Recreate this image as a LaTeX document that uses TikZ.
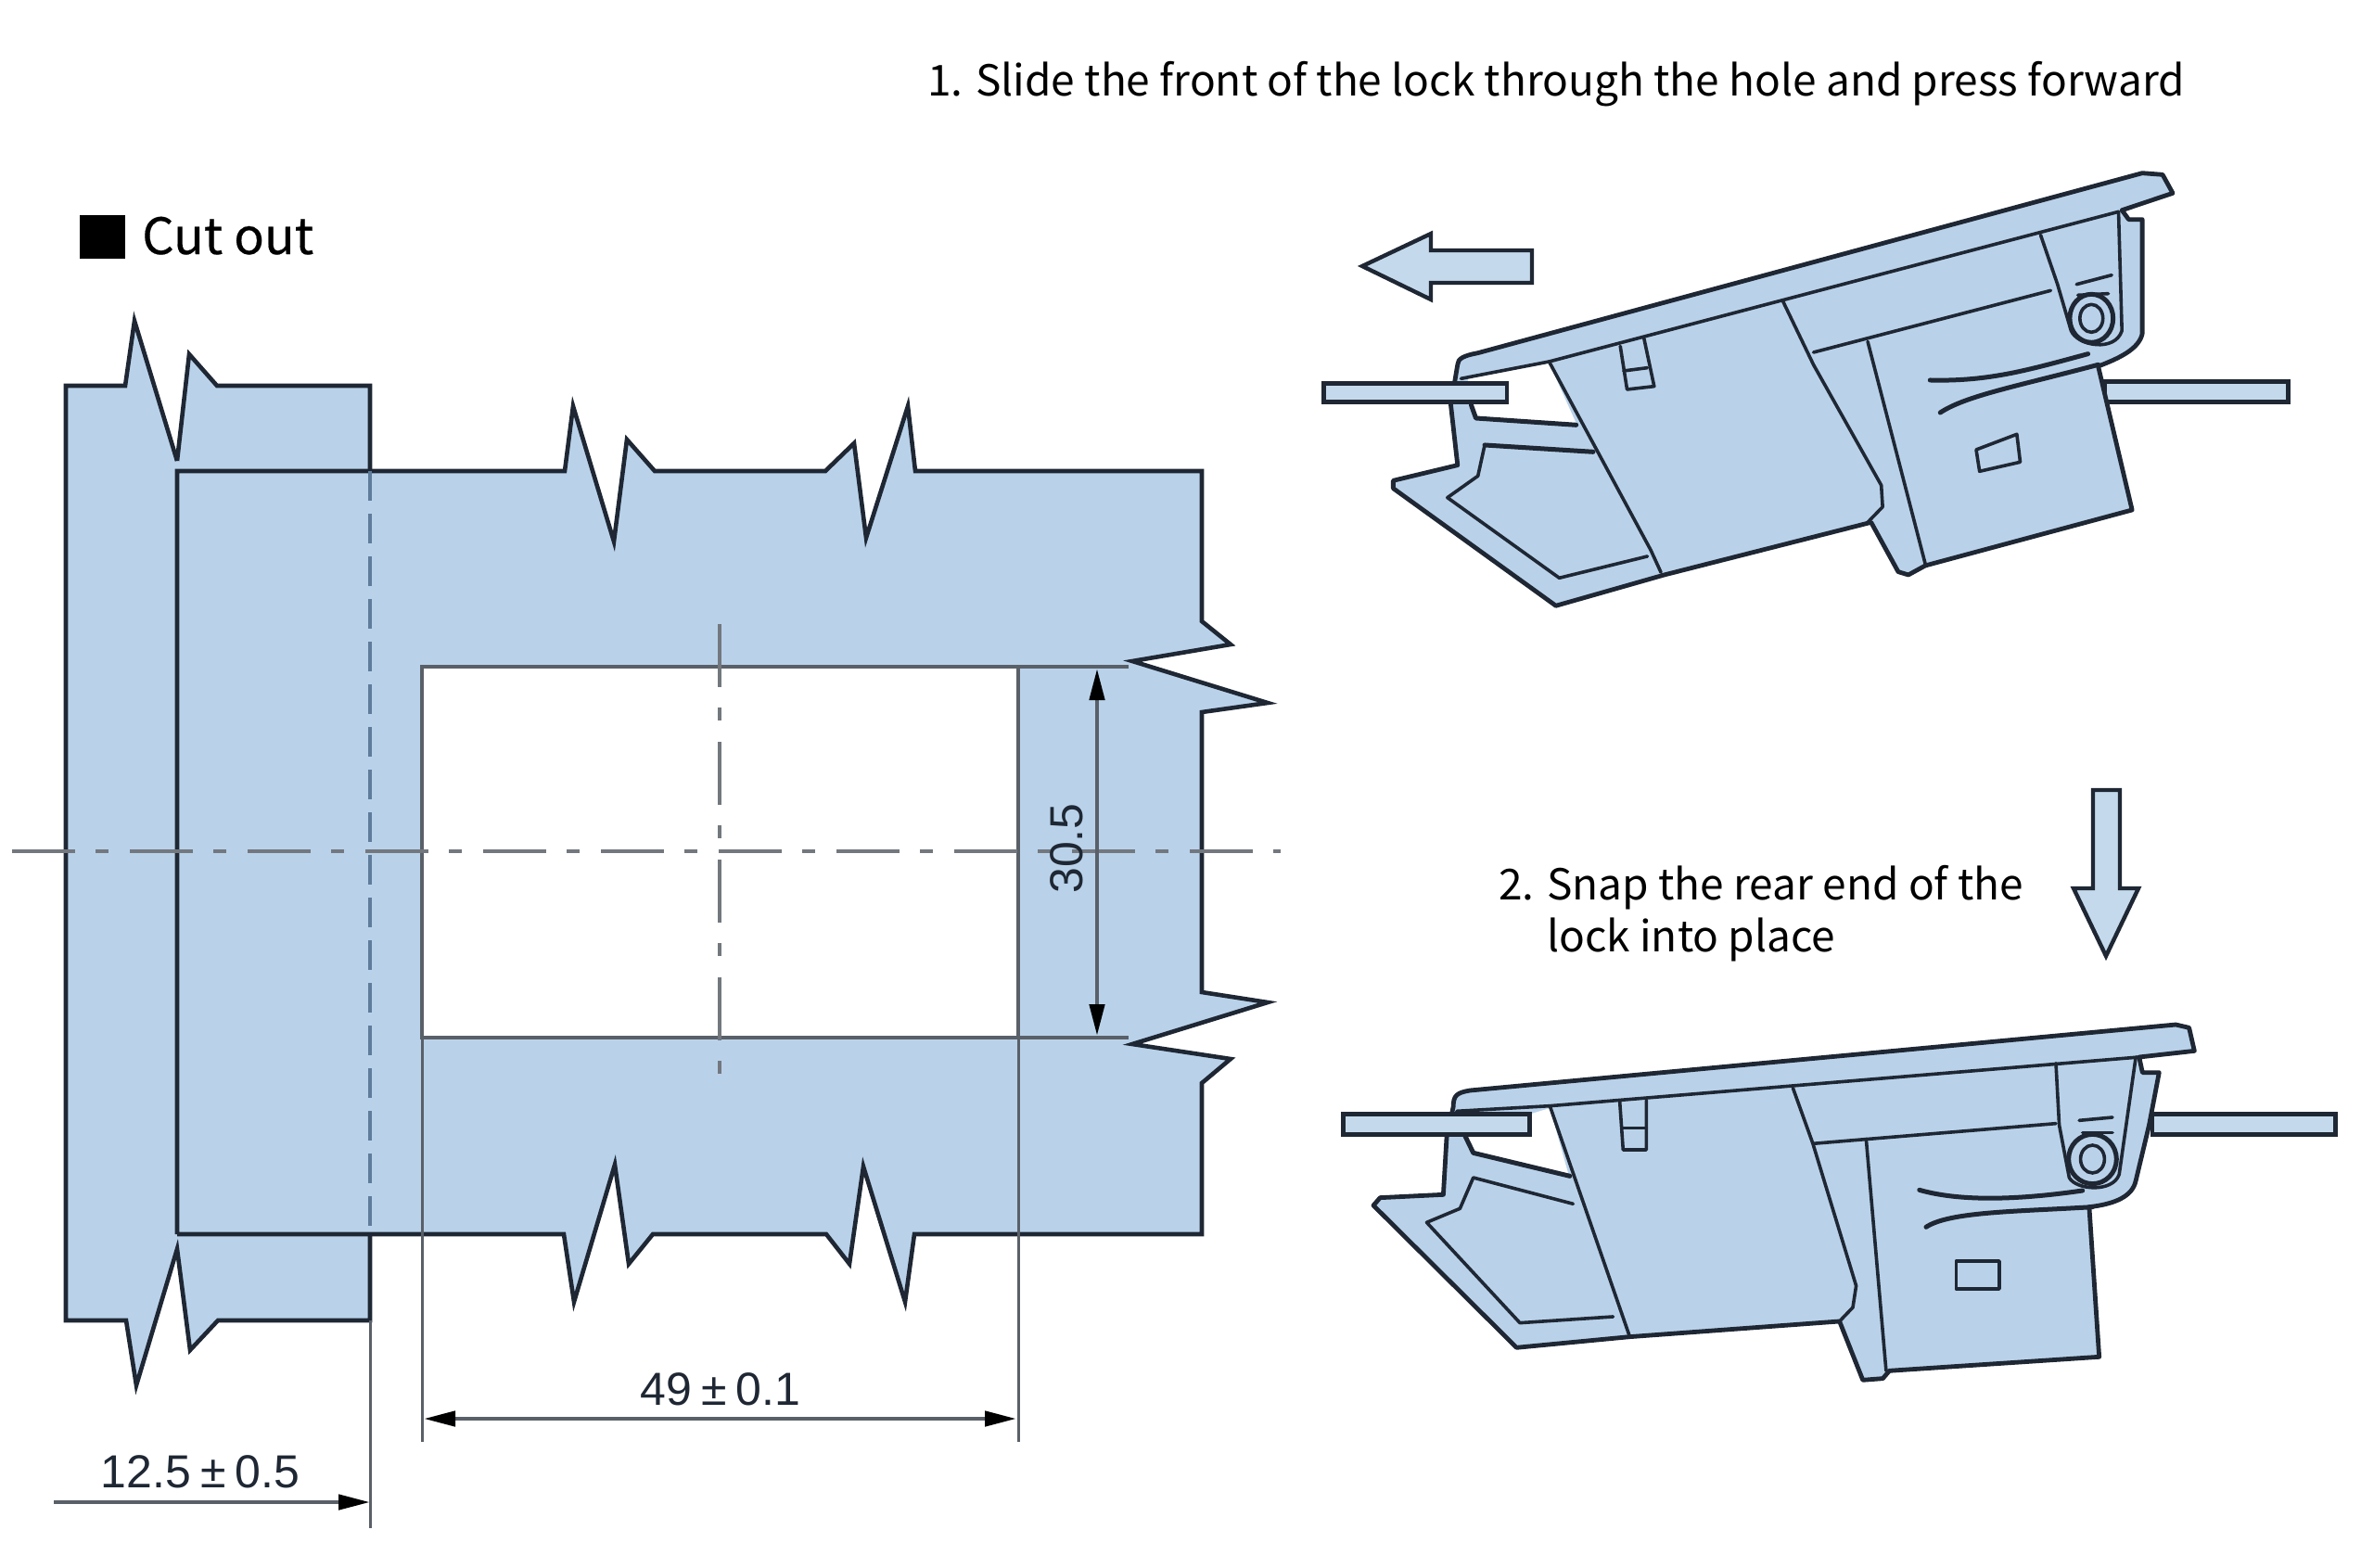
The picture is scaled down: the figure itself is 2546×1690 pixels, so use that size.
\documentclass[tikz,border=0pt]{standalone}
\usepackage{fontspec}
\setmainfont{Noto Sans CJK SC}
\newfontfamily\boldishfont[FakeBold=0.35]{Noto Sans CJK SC}
\newfontfamily\dimfont{Liberation Sans}
\usetikzlibrary{arrows.meta}
\definecolor{plate}{HTML}{B9D2EA}
\definecolor{railfill}{HTML}{C4DAEC}
\definecolor{ink}{HTML}{1E2733}
\definecolor{greyline}{HTML}{5A6068}
\definecolor{dashblue}{HTML}{5F7C9C}
\tikzset{
  outline/.style={draw=ink,line width=4.6pt,line join=miter,miter limit=20},
  platefill/.style={fill=plate,draw=none},
  thinedge/.style={draw=greyline,line width=3.8pt},
  dimline/.style={draw=greyline,line width=3pt},
  dimarrow/.style={draw=greyline,line width=4.6pt},
  center line/.style={draw=greyline!85!white,line width=3.4pt,dash pattern=on 68pt off 22pt on 14pt off 23pt},
  hidden line/.style={draw=dashblue,line width=3.4pt,dash pattern=on 32pt off 14pt},
  lockline/.style={draw=ink,line width=3.6pt,line join=round,line cap=round},
  lockthick/.style={draw=ink,line width=5pt,line join=round,line cap=round},
  lockfill/.style={fill=plate,draw=ink,line width=4.8pt,line join=round},
  rail/.style={fill=railfill,draw=ink,line width=4.6pt},
  bigarrow/.style={fill=railfill,draw=ink,line width=4.4pt,line join=miter},
  caption/.style={anchor=base west,inner sep=0pt,font=\fontsize{46}{56}\selectfont,text=black},
  dimtext/.style={inner sep=0pt,font=\dimfont\fontsize{50}{60}\selectfont,text=ink},
  lockA/.style={shift={(1400pt,-160pt)},x=.731pt,y=-.3333pt},
  lockB/.style={shift={(1420pt,-1080pt)},x=.718pt,y=-.3333pt}
}
\begin{document}
\begin{tikzpicture}[x=1pt,y=-1pt,>={Triangle[length=34pt,width=16pt,color=black]}]
\useasboundingbox (0,0) rectangle (2546,1690);
\fill[white] (0,0) rectangle (2546,1690);

% ---- back plate
\coordinate (bTL) at (71,416); \coordinate (bTR) at (399,416);
\coordinate (bBL) at (71,1424); \coordinate (bBR) at (399,1424);
\fill[platefill] (bTL) -- (135,416) -- (145,346) -- (191,497) -- (204,382) -- (234,416) -- (bTR) -- (bBR) -- (235,1424) -- (205,1456) -- (191,1347) -- (147,1494) -- (136,1424) -- (bBL) -- cycle;
% ---- front plate with hole
\fill[platefill,even odd rule] (191,508) -- (609,508) -- (618,438) -- (662,584) -- (676,474) -- (706,508) -- (890,508) -- (921,478) -- (934,580) -- (979,438) -- (987,508) -- (1296,508) -- (1296,670) -- (1327,695) -- (1221,713) -- (1367,758) -- (1296,768) -- (1296,1070) -- (1367,1081) -- (1221,1126) -- (1327,1142) -- (1296,1168) -- (1296,1331) -- (986,1331) -- (976,1404) -- (931,1258) -- (916,1363) -- (891,1331) -- (704,1331) -- (678,1363) -- (663,1256) -- (619,1404) -- (608,1331) -- (191,1331) -- cycle
 (455,719) -- (1098,719) -- (1098,1119) -- (455,1119) -- cycle;
% ---- outlines
\draw[outline] (191,497) -- (204,382) -- (234,416) -- (bTR) -- (399,508);
\draw[outline] (191,497) -- (145,346) -- (135,416) -- (bTL) -- (bBL) -- (136,1424) -- (147,1494) -- (191,1347) -- (205,1456) -- (235,1424) -- (bBR) -- (399,1331);
\draw[outline] (191,1331) -- (191,508) -- (609,508) -- (618,438) -- (662,584) -- (676,474) -- (706,508) -- (890,508) -- (921,478) -- (934,580) -- (979,438) -- (987,508) -- (1296,508) -- (1296,670) -- (1327,695) -- (1221,713) -- (1367,758) -- (1296,768) -- (1296,1070) -- (1367,1081) -- (1221,1126) -- (1327,1142) -- (1296,1168) -- (1296,1331) -- (986,1331) -- (976,1404) -- (931,1258) -- (916,1363) -- (891,1331) -- (704,1331) -- (678,1363) -- (663,1256) -- (619,1404) -- (608,1331) -- (191,1331);
% hole
\coordinate (hTL) at (455,719); \coordinate (hTR) at (1098,719);
\coordinate (hBL) at (455,1119); \coordinate (hBR) at (1098,1119);
\draw[thinedge] (1217,719) -- (hTR) -- (hTL) -- (hBL) -- (hBR) -- (1217,1119);
\draw[thinedge] (hTR) -- (hBR);
% hidden edge
\draw[hidden line] (399,508) -- (399,1331);
% centre lines
\coordinate (cL) at (13,918); \coordinate (cR) at (1381,918);
\coordinate (cT) at (776,673); \coordinate (cB) at (776,1163);
\draw[center line] (cL) -- (cR);
\draw[center line] (cT) -- (cB);
% dimensions
\coordinate (eA) at (399,1648);
\coordinate (eB) at (455,1555);
\coordinate (eC) at (1098,1555);
\draw[dimline] (bBR) -- (eA);
\draw[dimline] (hBL) -- (eB);
\draw[dimline] (hBR) -- (eC);
\coordinate (a1) at (58,1620); \coordinate (a2) at (399,1620);
\draw[dimarrow,->] (a1) -- (a2);
\coordinate (a3) at (457,1530); \coordinate (a4) at (1096,1530);
\draw[dimarrow,<->] (a3) -- (a4);
\coordinate (a5) at (1183,721); \coordinate (a6) at (1183,1117);
\draw[dimarrow,<->] (a5) -- (a6);
\node[dimtext] (d125) at (216,1587) {12.5\kern.2em±\kern.2em0.5};
\node[dimtext] (d49) at (777,1498) {49\kern.2em±\kern.2em0.1};
\node[dimtext,rotate=90] (d305) at (1150,915) {30.5};

% ---- texts
\fill[black] (86,232) rectangle (135,279);
\node[caption,font=\boldishfont\fontsize{54}{64}\selectfont] (cut) at (153,274) {Cut out};
\node[caption] (s1) at (1000,103) {1. Slide the front of the lock through the hole and press forward};
\node[caption] (s2a) at (1616,970) {2. Snap the rear end of the};
\node[caption] (s2b) at (1668,1026) {lock into place};

% ---- direction arrows
\draw[bigarrow] (1469,287) -- (1543,252) -- (1543,270) -- (1652,270) -- (1652,305) -- (1543,305) -- (1543,323) -- cycle;
\draw[bigarrow] (2271,1031) -- (2236,958) -- (2257,958) -- (2257,852) -- (2286,852) -- (2286,958) -- (2306,958) -- cycle;

% ---- lock 1
\begin{scope}[lockA]
\draw[rail] (1190,755) rectangle (1460,820);
\draw[lockfill] (235,700) .. controls (235,680) and (245,670) .. (265,662) -- (1245,80) -- (1275,85) -- (1290,145) -- (1215,200) -- (1225,230) -- (1245,230) -- (1245,600) .. controls (1240,650) and (1210,680) .. (1180,705) -- (1230,1170) -- (925,1350) -- (900,1380) -- (885,1370) -- (845,1210) -- (540,1380) -- (380,1480) -- (140,1100) -- (140,1075) -- (235,1025) -- (225,830) -- cycle;
\fill[white] (250,745) -- (370,695) -- (410,890) -- (265,875) -- (255,830) -- cycle;
\draw[lockline] (240,745) -- (370,690) -- (1210,205);
\draw[lockline] (370,690) -- (520,1300) -- (535,1372);
\draw[lockthick] (255,830) -- (262,873) -- (410,895);
\draw[lockthick] (275,960) -- (435,982);
\draw[lockline] (275,960) -- (265,1060) -- (220,1130) -- (385,1390) -- (515,1320);
\draw[lockline] (475,640) -- (485,780) -- (525,770) -- (510,615);
\draw[lockline] (480,720) -- (515,710);
\draw[lockline] (715,495) -- (760,700) -- (860,1090) -- (862,1160) -- (840,1210);
\draw[lockline] (760,660) -- (1110,460);
\draw[lockline] (840,625) -- (925,1345);
\draw[lockline] (1095,280) -- (1120,440) -- (1140,590) .. controls (1150,640) and (1205,660) .. (1215,590) -- (1210,205);
\draw[lockline] (1148,440) -- (1200,410);
\draw[lockline] (1150,475) -- (1195,470);
\draw[lockthick] (1170,550) ellipse (32 and 78);
\draw[lockline] (1170,550) ellipse (17 and 45);
\draw[lockthick] (932,750) .. controls (1020,755) and (1080,715) .. (1165,665);
\draw[lockthick] (947,855) .. controls (985,800) and (1060,770) .. (1180,700);
\draw[lockline] (1000,975) -- (1060,925) -- (1065,1015) -- (1005,1045) -- cycle;
\draw[rail] (38,760) rectangle (308,820);
\end{scope}

% ---- lock 2
\begin{scope}[lockB]
\draw[rail] (1255,365) rectangle (1530,430);
\draw[lockfill] (205,340) .. controls (205,305) and (210,295) .. (230,288) -- (1290,75) -- (1310,85) -- (1318,160) -- (1235,180) -- (1240,230) -- (1265,230) -- (1250,400) -- (1230,580) .. controls (1225,630) and (1200,655) .. (1160,665) -- (1175,1150) -- (860,1195) -- (850,1220) -- (820,1225) -- (785,1035) -- (470,1085) -- (300,1120) -- (85,660) -- (95,635) -- (190,625) -- (195,440) -- cycle;
\fill[white] (220,430) -- (350,345) -- (378,560) -- (235,490) -- cycle;
\draw[lockline] (210,355) -- (350,338) -- (1235,180);
\draw[lockline] (350,338) -- (470,1085);
\draw[lockthick] (222,432) -- (235,490) -- (380,565);
\draw[lockline] (385,655) -- (235,570) -- (215,670) -- (165,715) -- (305,1040) -- (445,1020);
\draw[lockline] (455,325) -- (460,480) -- (495,480) -- (495,320);
\draw[lockline] (460,410) -- (495,410);
\draw[lockline] (715,280) -- (745,460) -- (810,920) -- (805,990) -- (785,1035);
\draw[lockline] (745,460) -- (1110,395);
\draw[lockline] (825,445) -- (855,1195);
\draw[lockline] (1110,200) -- (1115,400) -- (1130,570) .. controls (1140,610) and (1195,620) .. (1205,560) -- (1230,180);
\draw[lockline] (1145,385) -- (1195,375);
\draw[lockline] (1150,425) -- (1195,425);
\draw[lockthick] (1165,510) ellipse (36 and 80);
\draw[lockline] (1165,510) ellipse (18 and 45);
\draw[lockthick] (905,610) .. controls (970,650) and (1060,640) .. (1150,612);
\draw[lockthick] (915,730) .. controls (950,680) and (1050,680) .. (1165,665);
\draw[lockline] (960,840) rectangle (1025,930);
\draw[rail] (40,365) rectangle (320,430);
\end{scope}
\end{tikzpicture}
\end{document}
